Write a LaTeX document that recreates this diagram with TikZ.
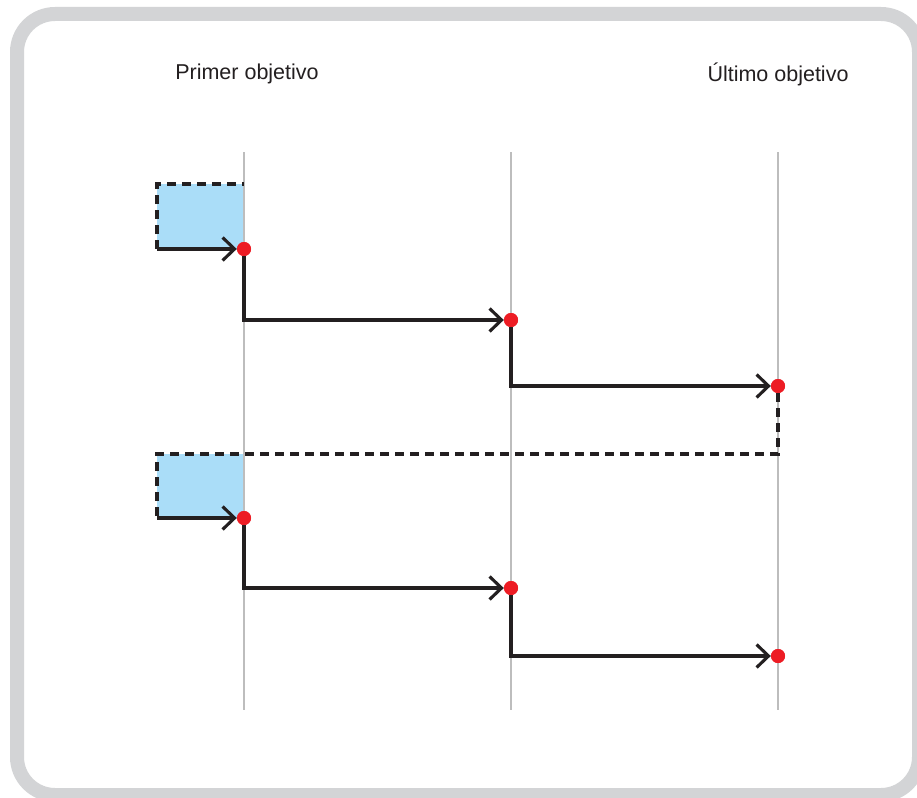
\documentclass[tikz,border=0pt]{standalone}
\usepackage{fontspec}
\setmainfont{Liberation Sans}
\usetikzlibrary{arrows.meta}
\definecolor{framegray}{HTML}{D3D4D6}
\definecolor{guide}{HTML}{BDBDBD}
\definecolor{ink}{HTML}{231F20}
\definecolor{dotred}{HTML}{ED1C24}
\definecolor{zone}{HTML}{AADDF8}
\tikzset{
  dot/.style={circle,fill=dotred,inner sep=0pt,minimum size=14pt},
  flow/.style={ink,line width=3.1pt,-{Straight Barb[length=12pt,width=23pt,line width=3.1pt]}},
  dashlink/.style={ink,line width=3.3pt,dash pattern=on 9pt off 6pt},
  guideline/.style={guide,line width=2pt},
  label/.style={ink,font=\fontsize{21.5}{26}\selectfont,inner sep=0pt}
}
\begin{document}
\begin{tikzpicture}[x=1pt,y=-1pt]
\useasboundingbox (0,0) rectangle (917,797);
\clip (0,0) rectangle (917,797);
\fill[white] (0,0) rectangle (917,797);
% outer frame
\draw[framegray,line width=14pt,rounded corners=38pt] (17,14) rectangle (919,795);

% shaded start zones
\fill[zone] (157,184) rectangle (244,249);
\fill[zone] (157,454) rectangle (244,518);

% column guides
\draw[guideline] (244,152) -- (244,710);
\draw[guideline] (511,152) -- (511,710);
\draw[guideline] (778,152) -- (778,710);

% headings
\node[label] (h1) at (247,74) {Primer objetivo};
\node[label] (h2) at (778,74) {Último objetivo};

% target points
\node[dot] (a1) at (244,249) {};
\node[dot] (a2) at (511,320) {};
\node[dot] (a3) at (778,386) {};
\node[dot] (b1) at (244,518) {};
\node[dot] (b2) at (511,588) {};
\node[dot] (b3) at (778,656) {};

\coordinate (ina) at (157,249);
\coordinate (inb) at (157,518);
\coordinate (za) at (157,184);
\coordinate (zat) at (244,184);
\coordinate (zb) at (157,454);
\coordinate (turn) at (778,454);

% dashed boundaries
\draw[dashlink] (ina) -- (za) -- (zat);
\draw[dashlink] (a3.south) -- (turn) -- (zb) -- (inb);

% flow arrows
\draw[flow] (ina) -- (a1);
\draw[flow] (a1.south) |- (a2);
\draw[flow] (a2.south) |- (a3);
\draw[flow] (inb) -- (b1);
\draw[flow] (b1.south) |- (b2);
\draw[flow] (b2.south) |- (b3);

% redraw points on top
\foreach \p in {a1,a2,a3,b1,b2,b3} \fill[dotred] (\p) circle (7pt);
\end{tikzpicture}
\end{document}
